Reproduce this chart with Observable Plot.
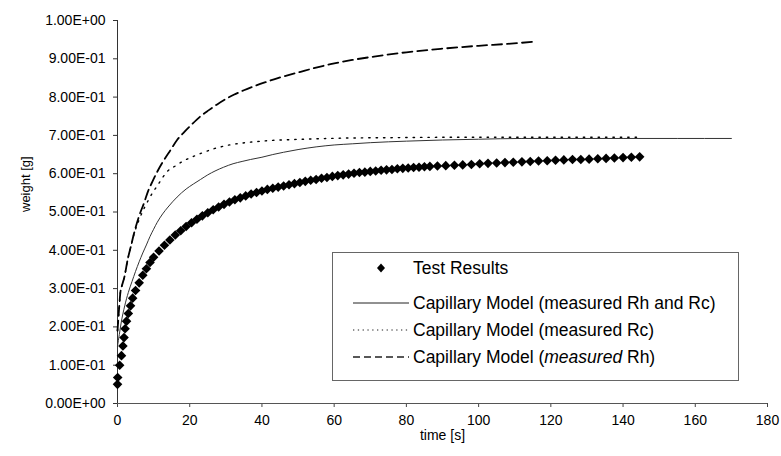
<!DOCTYPE html>
<html><head><meta charset="utf-8">
<script src="https://cdn.jsdelivr.net/npm/d3@7"></script>
<script src="https://cdn.jsdelivr.net/npm/@observablehq/plot@0.6"></script>
<style>
body{margin:0;background:#fff;}
#wrap{position:relative;width:781px;height:456px;font-family:"Liberation Sans",Arial,sans-serif;}
#legend{position:absolute;left:332px;top:252px;width:407px;height:129px;box-sizing:border-box;border:1px solid #666;background:#fff;}
#legend svg{position:absolute;left:0;top:0;}
</style></head><body><div id="wrap"></div>
<script>
// ---- Data ----
const testTime = [0, 0.05, 0.6, 1.1, 1.5, 1.8, 2.1, 2.5, 3.0, 3.6, 4.2, 5.0, 6.0, 7.0, 8.0, 9.0, 10.0,
  11.5, 13.0, 14.5, 16.0, 17.5, 19.0, 20.5, 22.0, 23.5, 25.0, 26.5, 28.0, 29.5, 31.0, 32.5, 34.0, 35.5,
  37.0, 38.5, 40.0, 41.5, 43.0, 44.5, 46.0, 47.5, 49.0, 50.5, 52.0, 53.5, 55.0, 56.5, 58.0, 59.5, 61.0,
  62.5, 64.0, 65.5, 67.0, 68.5, 70.0, 71.5, 73.0, 74.5, 76.0, 77.5, 79.0, 80.5, 82.0, 83.5, 85.0, 86.5,
  88.6, 90.9, 93.3, 95.6, 98.0, 100.3, 102.6, 105.0, 107.3, 109.6, 112.0, 114.3, 116.6, 119.0, 121.3,
  123.6, 126.0, 128.3, 130.6, 133.0, 135.3, 137.6, 140.0, 142.3, 144.6];
const testWeight = [0.05, 0.068, 0.10, 0.125, 0.15, 0.172, 0.195, 0.215, 0.235, 0.255, 0.275, 0.295, 0.315, 0.335, 0.352, 0.368, 0.382,
  0.398, 0.413, 0.427, 0.44, 0.451, 0.462, 0.472, 0.481, 0.490, 0.498, 0.506, 0.513, 0.520, 0.526, 0.532, 0.537, 0.542,
  0.547, 0.551, 0.555, 0.559, 0.562, 0.565, 0.568, 0.571, 0.574, 0.577, 0.580, 0.583, 0.585, 0.588, 0.590, 0.593, 0.595,
  0.597, 0.599, 0.601, 0.603, 0.604, 0.606, 0.607, 0.609, 0.610, 0.611, 0.613, 0.614, 0.615, 0.616, 0.617, 0.618, 0.619,
  0.620, 0.621, 0.622, 0.623, 0.624, 0.626, 0.627, 0.628, 0.629, 0.630, 0.631, 0.632, 0.633, 0.634, 0.635,
  0.636, 0.637, 0.637, 0.638, 0.639, 0.640, 0.641, 0.642, 0.643, 0.644];

const rhRcTime = [0, 0.5, 1, 2, 3, 4, 5, 6, 7, 8, 9, 10, 11, 12.5, 14, 16.5, 19, 21, 23, 25, 27, 29.4, 32, 34.5, 36.8,
  40, 43, 46, 50, 55, 60, 65, 70, 80, 90, 100, 112, 125, 140, 155, 170];
const rhRcWeight = [0.15, 0.18, 0.21, 0.255, 0.29, 0.318, 0.345, 0.37, 0.393, 0.414, 0.436, 0.455, 0.473, 0.495, 0.513, 0.539, 0.56, 0.573, 0.585, 0.597, 0.607, 0.617, 0.626, 0.632, 0.637,
  0.643, 0.65, 0.656, 0.663, 0.670, 0.675, 0.678, 0.681, 0.685, 0.688, 0.690, 0.692, 0.692, 0.692, 0.692, 0.692];

const rcTime = [0, 0.4, 0.8, 1.3, 1.9, 2.8, 3.7, 4.6, 6, 7.4, 8.5, 9.7, 11, 12.5, 13.7, 16, 18.4, 21, 23.9, 27, 30.4,
  34.5, 38.7, 43, 47.9, 55, 62.7, 75, 90, 105, 120, 135, 145];
const rcWeight = [0.19, 0.243, 0.29, 0.31, 0.33, 0.375, 0.41, 0.443, 0.48, 0.51, 0.53, 0.55, 0.568, 0.59, 0.605, 0.62, 0.634, 0.645, 0.656, 0.666, 0.674,
  0.68, 0.684, 0.687, 0.689, 0.691, 0.693, 0.694, 0.695, 0.695, 0.695, 0.695, 0.695];

const rhTime = [0, 0.4, 0.8, 1.3, 1.9, 2.8, 3.7, 4.6, 6, 7.4, 8.5, 9.7, 11, 12.5, 14.7, 16.5, 18.4, 20.5, 23, 25.3, 27.6,
  30, 32.2, 35, 37.7, 41, 44.2, 50.7, 55, 59, 65, 72, 80, 89.5, 100, 108, 116];
const rhWeight = [0.19, 0.243, 0.29, 0.31, 0.33, 0.375, 0.41, 0.445, 0.49, 0.525, 0.555, 0.58, 0.605, 0.63, 0.662, 0.688, 0.708, 0.728, 0.75, 0.766, 0.781,
  0.795, 0.806, 0.818, 0.828, 0.839, 0.849, 0.866, 0.877, 0.886, 0.897, 0.907, 0.917, 0.926, 0.934, 0.939, 0.945];

const xTicks = [0, 20, 40, 60, 80, 100, 120, 140, 160, 180];
const yTicks = [0, 0.1, 0.2, 0.3, 0.4, 0.5, 0.6, 0.7, 0.8, 0.9, 1.0];
const seriesNames = ["Test Results", "Capillary Model (measured Rh and Rc)", "Capillary Model (measured Rc)", "Capillary Model (measured Rh)"];
const xLabel = "time [s]";
const yLabel = "weight [g]";

// ---- Build ----
const zip = (ts, ws) => ts.map((t, i) => ({t, w: ws[i]}));
const test = zip(testTime, testWeight);
const rhRc = zip(rhRcTime, rhRcWeight);
const rc = zip(rcTime, rcWeight);
const rh = zip(rhTime, rhWeight);

const diamond = {draw(ctx, size) {
  const r = Math.sqrt(size / Math.PI);
  ctx.moveTo(0, -r); ctx.lineTo(r, 0); ctx.lineTo(0, r); ctx.lineTo(-r, 0); ctx.closePath();
}};

const fmtE = d => {
  const [m, e] = d.toExponential(2).split("e");
  const s = e[0] === "-" ? "-" : "+";
  return `${m}E${s}${String(Math.abs(+e)).padStart(2, "0")}`;
};

const chart = Plot.plot({
  width: 781, height: 456,
  marginLeft: 117, marginRight: 14, marginTop: 20, marginBottom: 53,
  style: {fontFamily: '"Liberation Sans", Arial, sans-serif', fontSize: "14px", background: "#fff", color: "#000", overflow: "visible"},
  x: {domain: [0, 180]},
  y: {domain: [0, 1]},
  marks: [
    Plot.axisX({ticks: xTicks, tickSize: 4, tickPadding: 8, label: null, stroke: "#444"}),
    Plot.axisY({ticks: yTicks, tickSize: 4, tickPadding: 8, tickFormat: fmtE, label: null, stroke: "#333"}),
    Plot.ruleX([0], {stroke: "#333", strokeWidth: 1}),
    Plot.ruleY([0], {stroke: "#555", strokeWidth: 1}),
    Plot.line(rhRc, {x: "t", y: "w", stroke: "#333", strokeWidth: 1, curve: "monotone-x"}),
    Plot.line(rc, {x: "t", y: "w", stroke: "#000", strokeWidth: 1.4, strokeDasharray: "1.4,6", curve: "monotone-x"}),
    Plot.line(rh, {x: "t", y: "w", stroke: "#000", strokeWidth: 1.8, strokeDasharray: "10,5", curve: "monotone-x"}),
    Plot.dot(test, {x: "t", y: "w", r: 4.8, symbol: diamond, fill: "#000", stroke: "none"}),
    Plot.text([yLabel], {text: d => d, frameAnchor: "left", dx: -92, rotate: -90, fontSize: 13}),
    Plot.text([xLabel], {text: d => d, frameAnchor: "bottom", dy: 36, fontSize: 14})
  ]
});

const wrap = document.getElementById("wrap");
wrap.appendChild(chart);

// ---- Legend ----
const legend = document.createElement("div");
legend.id = "legend";
const rowsY = [15, 50, 77, 104];
const ns = "http://www.w3.org/2000/svg";
const svg = document.createElementNS(ns, "svg");
svg.setAttribute("width", 405); svg.setAttribute("height", 127);
const styles = [null, {dash: null, w: 1}, {dash: "1.3,3.5", w: 1.2}, {dash: "7,4", w: 1.3}];
seriesNames.forEach((name, i) => {
  const y = rowsY[i];
  if (i === 0) {
    const p = document.createElementNS(ns, "path");
    p.setAttribute("d", `M48,${y-4.5}L52,${y}L48,${y+4.5}L44,${y}Z`);
    p.setAttribute("fill", "#000");
    svg.appendChild(p);
  } else {
    const l = document.createElementNS(ns, "line");
    l.setAttribute("x1", 20); l.setAttribute("x2", 76);
    l.setAttribute("y1", y); l.setAttribute("y2", y);
    l.setAttribute("stroke", "#222"); l.setAttribute("stroke-width", styles[i].w);
    if (styles[i].dash) l.setAttribute("stroke-dasharray", styles[i].dash);
    svg.appendChild(l);
  }
  const t = document.createElementNS(ns, "text");
  t.setAttribute("x", 80); t.setAttribute("y", y);
  t.setAttribute("dominant-baseline", "central");
  t.setAttribute("font-size", "17.5");
  t.setAttribute("font-family", '"Liberation Sans", Arial, sans-serif');
  if (i === 3) {
    const parts = name.split("measured");
    const a = document.createElementNS(ns, "tspan"); a.textContent = parts[0];
    const b = document.createElementNS(ns, "tspan"); b.textContent = "measured"; b.setAttribute("font-style", "italic");
    const c = document.createElementNS(ns, "tspan"); c.textContent = parts[1];
    t.appendChild(a); t.appendChild(b); t.appendChild(c);
  } else {
    t.textContent = name;
  }
  svg.appendChild(t);
});
legend.appendChild(svg);
wrap.appendChild(legend);
</script>
</body></html>
